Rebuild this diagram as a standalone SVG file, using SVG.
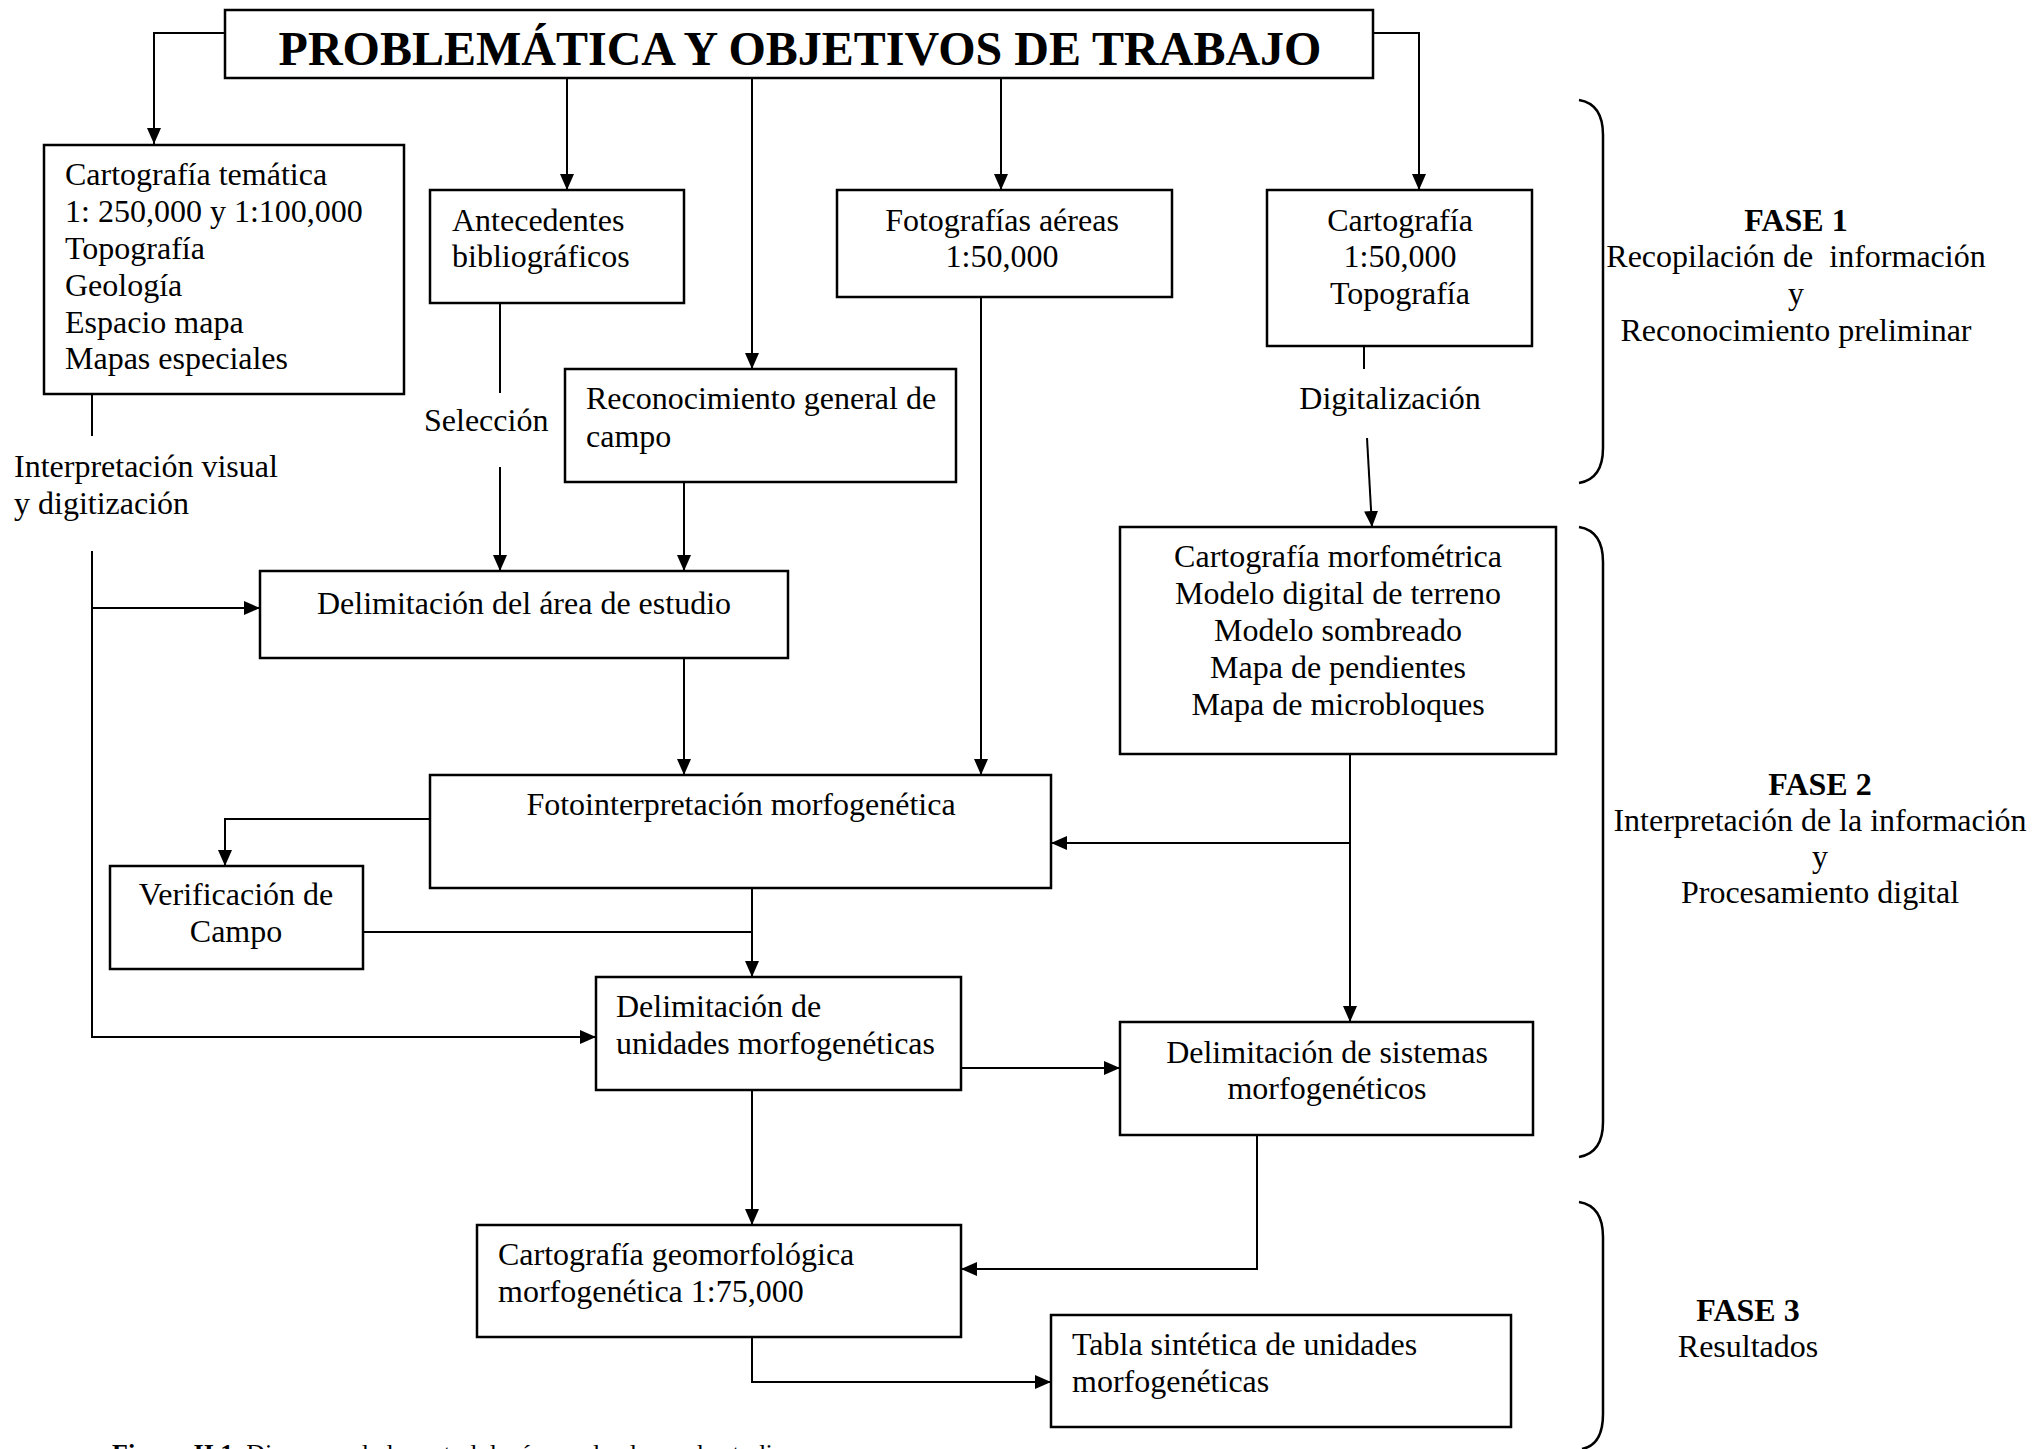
<svg xmlns="http://www.w3.org/2000/svg" width="2032" height="1449" viewBox="0 0 2032 1449">
<style>
text{font-family:"Liberation Serif","Times New Roman",serif;font-size:32px;fill:#000}
.c{text-anchor:middle}
.b{font-weight:bold}
.box{fill:#fff;stroke:#000;stroke-width:2.5}
.ln{fill:none;stroke:#000;stroke-width:2}
.br{fill:none;stroke:#000;stroke-width:2.5}
</style>
<defs>
<marker id="ah" markerUnits="userSpaceOnUse" markerWidth="16" markerHeight="14" refX="16" refY="7" orient="auto">
<path d="M0,0 L16,7 L0,14 z" fill="#000"/>
</marker>
</defs>
<rect width="2032" height="1449" fill="#fff"/>

<g id="connectors">
<path class="ln" d="M225,33 H154 V144" marker-end="url(#ah)"/>
<path class="ln" d="M567,78 V190" marker-end="url(#ah)"/>
<path class="ln" d="M752,78 V369" marker-end="url(#ah)"/>
<path class="ln" d="M1001,78 V190" marker-end="url(#ah)"/>
<path class="ln" d="M1373,33 H1419 V190" marker-end="url(#ah)"/>
<path class="ln" d="M92,393 V436"/>
<path class="ln" d="M92,551 V1037 H596" marker-end="url(#ah)"/>
<path class="ln" d="M92,608 H260" marker-end="url(#ah)"/>
<path class="ln" d="M500,303 V393"/>
<path class="ln" d="M500,467 V571" marker-end="url(#ah)"/>
<path class="ln" d="M684,482 V571" marker-end="url(#ah)"/>
<path class="ln" d="M684,658 V775" marker-end="url(#ah)"/>
<path class="ln" d="M981,297 V775" marker-end="url(#ah)"/>
<path class="ln" d="M1364,346 V369"/>
<path class="ln" d="M1367,438 L1372,527" marker-end="url(#ah)"/>
<path class="ln" d="M1350,754 V1022" marker-end="url(#ah)"/>
<path class="ln" d="M1350,843 H1051" marker-end="url(#ah)"/>
<path class="ln" d="M430,819 H225 V866" marker-end="url(#ah)"/>
<path class="ln" d="M752,888 V977" marker-end="url(#ah)"/>
<path class="ln" d="M363,932 H752"/>
<path class="ln" d="M961,1068 H1120" marker-end="url(#ah)"/>
<path class="ln" d="M752,1090 V1225" marker-end="url(#ah)"/>
<path class="ln" d="M1257,1135 V1269 H961" marker-end="url(#ah)"/>
<path class="ln" d="M752,1337 V1382 H1051" marker-end="url(#ah)"/>
</g>

<g id="titulo">
<rect class="box" x="225" y="10" width="1148" height="68"/>
<text class="c b" x="800" y="65" style="font-size:48px">PROBLEMÁTICA Y OBJETIVOS DE TRABAJO</text>
</g>

<g id="cartografia-tematica">
<rect class="box" x="44" y="145" width="360" height="249"/>
<text x="65" y="185">Cartografía temática</text>
<text x="65" y="222">1: 250,000 y 1:100,000</text>
<text x="65" y="259">Topografía</text>
<text x="65" y="296">Geología</text>
<text x="65" y="333">Espacio mapa</text>
<text x="65" y="369">Mapas especiales</text>
</g>

<g id="antecedentes">
<rect class="box" x="430" y="190" width="254" height="113"/>
<text x="452" y="231">Antecedentes</text>
<text x="452" y="267">bibliográficos</text>
</g>

<g id="fotografias">
<rect class="box" x="837" y="190" width="335" height="107"/>
<text class="c" x="1002" y="231">Fotografías aéreas</text>
<text class="c" x="1002" y="267">1:50,000</text>
</g>

<g id="cartografia">
<rect class="box" x="1267" y="190" width="265" height="156"/>
<text class="c" x="1400" y="231">Cartografía</text>
<text class="c" x="1400" y="267">1:50,000</text>
<text class="c" x="1400" y="304">Topografía</text>
</g>

<g id="reconocimiento">
<rect class="box" x="565" y="369" width="391" height="113"/>
<text x="586" y="409">Reconocimiento general de</text>
<text x="586" y="447">campo</text>
</g>

<g id="etiquetas">
<text x="424" y="431">Selección</text>
<text x="14" y="477">Interpretación visual</text>
<text x="14" y="514">y digitización</text>
<text class="c" x="1390" y="409">Digitalización</text>
</g>

<g id="delimitacion-area">
<rect class="box" x="260" y="571" width="528" height="87"/>
<text class="c" x="524" y="614">Delimitación del área de estudio</text>
</g>

<g id="morfometrica">
<rect class="box" x="1120" y="527" width="436" height="227"/>
<text class="c" x="1338" y="567">Cartografía morfométrica</text>
<text class="c" x="1338" y="604">Modelo digital de terreno</text>
<text class="c" x="1338" y="641">Modelo sombreado</text>
<text class="c" x="1338" y="678">Mapa de pendientes</text>
<text class="c" x="1338" y="715">Mapa de microbloques</text>
</g>

<g id="fotointerpretacion">
<rect class="box" x="430" y="775" width="621" height="113"/>
<text class="c" x="741" y="815">Fotointerpretación morfogenética</text>
</g>

<g id="verificacion">
<rect class="box" x="110" y="866" width="253" height="103"/>
<text class="c" x="236" y="905">Verificación de</text>
<text class="c" x="236" y="942">Campo</text>
</g>

<g id="unidades">
<rect class="box" x="596" y="977" width="365" height="113"/>
<text x="616" y="1017">Delimitación de</text>
<text x="616" y="1054">unidades morfogenéticas</text>
</g>

<g id="sistemas">
<rect class="box" x="1120" y="1022" width="413" height="113"/>
<text class="c" x="1327" y="1063">Delimitación de sistemas</text>
<text class="c" x="1327" y="1099">morfogenéticos</text>
</g>

<g id="geomorfologica">
<rect class="box" x="477" y="1225" width="484" height="112"/>
<text x="498" y="1265">Cartografía geomorfológica</text>
<text x="498" y="1302">morfogenética 1:75,000</text>
</g>

<g id="tabla">
<rect class="box" x="1051" y="1315" width="460" height="112"/>
<text x="1072" y="1355">Tabla sintética de unidades</text>
<text x="1072" y="1392">morfogenéticas</text>
</g>

<g id="fases">
<path class="br" d="M1579,100 Q1603,104 1603,135 L1603,448 Q1603,479 1579,483"/>
<path class="br" d="M1579,527 Q1603,531 1603,562 L1603,1122 Q1603,1153 1579,1157"/>
<path class="br" d="M1579,1202 Q1603,1206 1603,1237 L1603,1414 Q1603,1445 1582,1449"/>
<text class="c b" x="1796" y="231">FASE 1</text>
<text class="c" x="1796" y="267" xml:space="preserve">Recopilación de  información</text>
<text class="c" x="1796" y="304">y</text>
<text class="c" x="1796" y="341">Reconocimiento preliminar</text>
<text class="c b" x="1820" y="795">FASE 2</text>
<text class="c" x="1820" y="831">Interpretación de la información</text>
<text class="c" x="1820" y="867">y</text>
<text class="c" x="1820" y="903">Procesamiento digital</text>
<text class="c b" x="1748" y="1321">FASE 3</text>
<text class="c" x="1748" y="1357">Resultados</text>
</g>

<g id="pie">
<text x="112" y="1462" style="font-size:26px"><tspan font-weight="bold">Figura II.1.</tspan> Diagrama de la metodología empleada en el estudio</text>
<text x="1840" y="1466" style="font-size:26px">24</text>
</g>
</svg>
